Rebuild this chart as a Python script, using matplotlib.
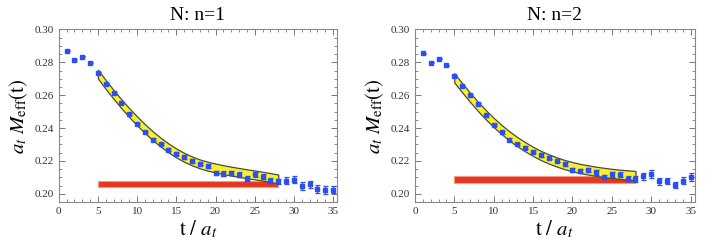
import numpy as np
import matplotlib
matplotlib.use("Agg")
import matplotlib.pyplot as plt
from matplotlib.ticker import MultipleLocator

plt.rcParams['font.family'] = ['Liberation Serif', 'DejaVu Serif']
plt.rcParams['mathtext.fontset'] = 'stix'

t = np.arange(1, 36)

# N: n=1
m1 = [0.2871, 0.2814, 0.2834, 0.2798, 0.2733, 0.2669, 0.2612, 0.2552, 0.2487, 0.2426,
      0.2376, 0.2329, 0.2303, 0.2269, 0.2244, 0.2224, 0.2198, 0.2184, 0.2168, 0.2127,
      0.2123, 0.2127, 0.2117, 0.2093, 0.2119, 0.2103, 0.2081, 0.2075, 0.2081, 0.2087,
      0.2046, 0.2057, 0.2030, 0.2022, 0.2026]
e1 = [0.0004, 0.0004, 0.0004, 0.0004, 0.0005, 0.0005, 0.0006, 0.0006, 0.0007, 0.0007,
      0.0008, 0.0008, 0.0009, 0.0009, 0.0010, 0.0010, 0.0011, 0.0011, 0.0012, 0.0013,
      0.0013, 0.0013, 0.0014, 0.0014, 0.0015, 0.0015, 0.0016, 0.0017, 0.0020, 0.0022,
      0.0024, 0.0022, 0.0022, 0.0024, 0.0024]
# N: n=2
m2 = [0.2855, 0.2798, 0.2822, 0.2782, 0.2717, 0.2657, 0.2602, 0.2545, 0.2477, 0.2420,
      0.2374, 0.2329, 0.2303, 0.2279, 0.2257, 0.2236, 0.2220, 0.2202, 0.2184, 0.2143,
      0.2141, 0.2145, 0.2131, 0.2103, 0.2119, 0.2117, 0.2091, 0.2091, 0.2107, 0.2121,
      0.2075, 0.2077, 0.2053, 0.2079, 0.2101]
e2 = [0.0004, 0.0004, 0.0004, 0.0004, 0.0005, 0.0005, 0.0006, 0.0006, 0.0007, 0.0007,
      0.0008, 0.0008, 0.0009, 0.0009, 0.0010, 0.0010, 0.0011, 0.0011, 0.0012, 0.0013,
      0.0013, 0.0013, 0.0014, 0.0014, 0.0015, 0.0015, 0.0016, 0.0017, 0.0020, 0.0024,
      0.0024, 0.0020, 0.0020, 0.0022, 0.0025]

# fit bands, t = 5..28
tband = np.arange(5, 29)
band1 = [0.2728, 0.2664, 0.2604, 0.2547, 0.2493, 0.2443, 0.2396, 0.2353, 0.2314, 0.2279,
         0.2248, 0.2222, 0.2200, 0.2182, 0.2168, 0.2157, 0.2147, 0.2138, 0.2130, 0.2122,
         0.2115, 0.2107, 0.2099, 0.2090]
band2 = [0.2705, 0.2645, 0.2587, 0.2532, 0.2481, 0.2434, 0.2391, 0.2352, 0.2317, 0.2286,
         0.2258, 0.2233, 0.2212, 0.2194, 0.2178, 0.2165, 0.2154, 0.2145, 0.2137, 0.2130,
         0.2124, 0.2119, 0.2115, 0.2111]
bw1 = 0.0027
bw2 = 0.0028
# ground state (red bar)
E1, dE1 = 0.2059, 0.0019
E2, dE2 = 0.2085, 0.0022

titles = ['N: n=1', 'N: n=2']

fig = plt.figure(figsize=(7.08, 2.47), dpi=100)
ax1 = fig.add_axes([0.083, 0.182, 0.393, 0.699])
ax2 = fig.add_axes([0.586, 0.182, 0.395, 0.699])

for ax, m, e, band, bw, E, dE, title in [(ax1, m1, e1, band1, bw1, E1, dE1, titles[0]),
                                          (ax2, m2, e2, band2, bw2, E2, dE2, titles[1])]:
    band = np.array(band)
    ax.fill_between([5, 28], E - dE, E + dE, color='#e3391f', edgecolor='#f19a8a', lw=0.8, zorder=2)
    ax.fill_between(tband, band - bw, band + bw, facecolor='#f7f02c', edgecolor='#4a4a3a', lw=0.9, zorder=3)
    ax.errorbar(t, m, yerr=e, fmt='s', color='#2c4ff2', ms=3.5, capsize=1.8, elinewidth=0.9,
                capthick=0.9, zorder=4)
    ax.set_xlim(0, 35.5)
    ax.set_ylim(0.195, 0.30)
    ax.xaxis.set_major_locator(MultipleLocator(5))
    ax.xaxis.set_minor_locator(MultipleLocator(1))
    ax.yaxis.set_major_locator(MultipleLocator(0.02))
    ax.yaxis.set_minor_locator(MultipleLocator(0.005))
    ax.yaxis.set_major_formatter(matplotlib.ticker.FormatStrFormatter('%.2f'))
    ax.tick_params(which='both', direction='in', top=True, right=True, color='#777777',
                   labelsize=8, labelcolor='#333333')
    ax.tick_params(which='major', length=4, width=0.7)
    ax.tick_params(which='minor', length=2, width=0.6)
    for sp in ax.spines.values():
        sp.set_color('#888888')
        sp.set_linewidth(0.8)
    ax.set_title(title, fontsize=14, pad=7)
    ax.set_xlabel(r'$\mathrm{t}\ /\ a_t$', fontsize=15, labelpad=2)
    ax.set_ylabel(r'$a_t\ M_{\mathrm{eff}}(\mathrm{t})$', fontsize=15, labelpad=3)

fig.savefig('out.png', dpi=100)
